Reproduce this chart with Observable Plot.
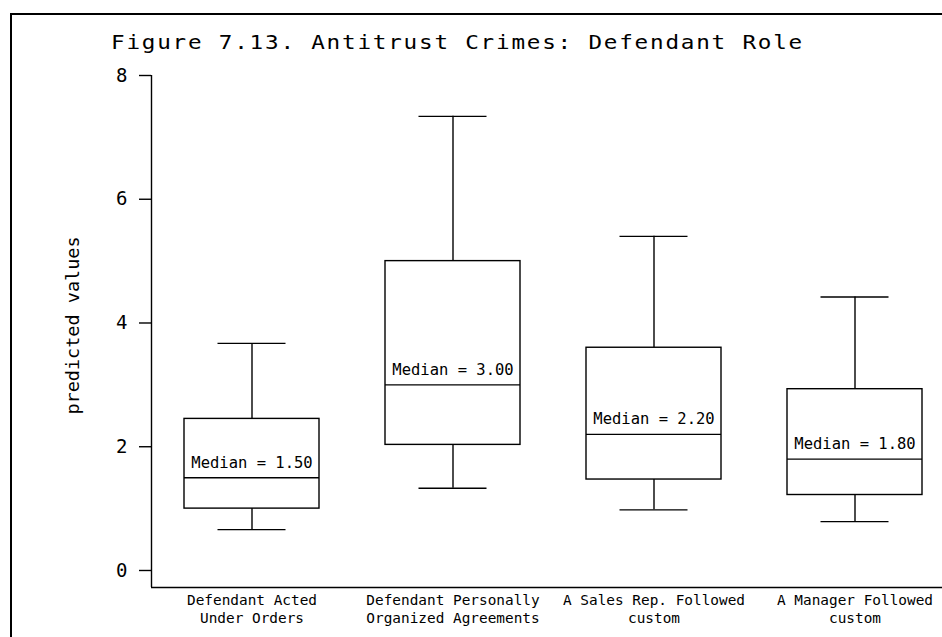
<!DOCTYPE html>
<html><head><meta charset="utf-8">
<script src="https://cdn.jsdelivr.net/npm/d3@7"></script>
<script src="https://cdn.jsdelivr.net/npm/@observablehq/plot@0.6"></script>
<style>
html,body{margin:0;padding:0;background:#fff;overflow:hidden;width:942px;height:637px;}
#frame{position:absolute;left:10px;top:13px;width:1000px;height:700px;border-left:2.5px solid #000;border-top:2.5px solid #000;z-index:3;pointer-events:none;}
#title{position:absolute;left:111px;top:33px;font-family:"DejaVu Sans Mono",monospace;font-size:19px;line-height:19px;letter-spacing:1.5px;white-space:nowrap;transform-origin:0 0;color:#000;z-index:2;}
#chart{position:absolute;left:0;top:60px;z-index:1;}
</style></head><body>
<div id="frame"></div>
<div id="title"></div>
<div id="chart"></div>
<script>
const titleText = "Figure 7.13. Antitrust Crimes: Defendant Role";
const categories = [
  "Defendant Acted\nUnder Orders",
  "Defendant Personally\nOrganized Agreements",
  "A Sales Rep. Followed\ncustom",
  "A Manager Followed\ncustom"
];
const whiskerLow  = [0.66, 1.33, 0.98, 0.79];
const q1          = [1.00, 2.03, 1.47, 1.22];
const median      = [1.50, 3.00, 2.20, 1.80];
const q3          = [2.45, 5.00, 3.60, 2.93];
const whiskerHigh = [3.67, 7.34, 5.40, 4.42];
const yTicks = [0, 2, 4, 6, 8];
const yLabel = "predicted values";

const data = categories.map((c, i) => ({
  cat: c, lo: whiskerLow[i], q1: q1[i], med: median[i], q3: q3[i], hi: whiskerHigh[i]
}));

const FONT = "DejaVu Sans Mono";
const W = 980, H = 577, ml = 151, mr = 25, mt = 15, mb = 50;
const step = (W - ml - mr) / categories.length;
const yMin = -0.275, yMax = 8;
const LW = 1.4, COL = "#000";

const chart = Plot.plot({
  width: W, height: H,
  marginLeft: ml, marginRight: mr, marginTop: mt, marginBottom: mb,
  style: {fontFamily: FONT, background: "transparent", color: "#000", overflow: "visible", maxWidth: "none"},
  x: {domain: categories, paddingInner: 0.33, paddingOuter: 0.165, axis: null},
  y: {domain: [yMin, yMax]},
  marks: [
    Plot.axisY(yTicks, {tickSize: 12, tickPadding: 12, fontSize: 19, fontFamily: FONT, label: null, tickFormat: d => String(d), strokeWidth: LW}),
    Plot.ruleX([categories[0]], {x: d => d, y1: yMin, y2: yMax, dx: -step / 2, stroke: COL, strokeWidth: LW}),
    Plot.ruleY([yMin], {stroke: COL, strokeWidth: LW}),
    Plot.text([yLabel], {text: d => d, frameAnchor: "left", textAnchor: "middle", rotate: -90, dx: -78, dy: -6, fontSize: 18.5, fontFamily: FONT, fill: COL}),
    Plot.ruleX(data, {x: "cat", y1: "q3", y2: "hi", stroke: COL, strokeWidth: LW}),
    Plot.ruleX(data, {x: "cat", y1: "lo", y2: "q1", stroke: COL, strokeWidth: LW}),
    Plot.tickY(data, {x: "cat", y: "hi", insetLeft: 33.5, insetRight: 33.5, stroke: COL, strokeWidth: LW}),
    Plot.tickY(data, {x: "cat", y: "lo", insetLeft: 33.5, insetRight: 33.5, stroke: COL, strokeWidth: LW}),
    Plot.barY(data, {x: "cat", y1: "q1", y2: "q3", fill: "white", stroke: COL, strokeWidth: LW}),
    Plot.tickY(data, {x: "cat", y: "med", stroke: COL, strokeWidth: LW}),
    Plot.text(data, {x: "cat", y: "med", text: d => `Median = ${d.med.toFixed(2)}`, dy: -15, fontSize: 15.5, fontFamily: FONT, fill: COL}),
    Plot.text(data, {x: "cat", text: "cat", frameAnchor: "bottom", lineAnchor: "top", dy: 5, fontSize: 14.4, lineHeight: 1.25, fontFamily: FONT, fill: COL})
  ]
});
document.getElementById("chart").appendChild(chart);

const t = document.getElementById("title");
t.textContent = titleText;
const w = t.getBoundingClientRect().width;
t.style.transform = `scaleX(${693 / w})`;
</script>
</body></html>
